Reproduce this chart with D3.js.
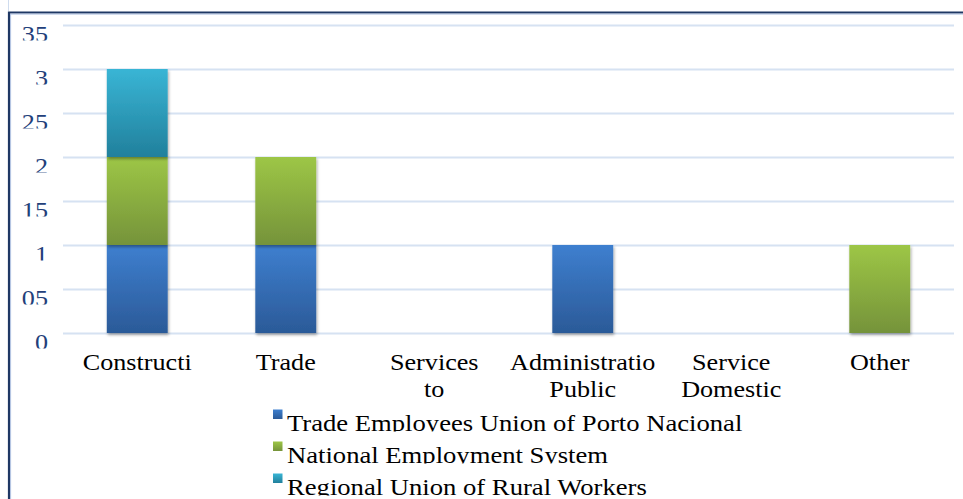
<!DOCTYPE html>
<html>
<head>
<meta charset="utf-8">
<script src="https://cdn.jsdelivr.net/npm/d3@7"></script>
<style>
  html, body { margin: 0; padding: 0; background: #fff; }
  svg { display: block; }
  text { font-family: "Liberation Serif", "Times New Roman", serif; }
</style>
</head>
<body>
<svg id="chart" width="963" height="499"></svg>
<script>
// Sector categories and the label lines shown under each bar
const categories = ["Construction", "Trade", "Services to", "Public Administration", "Domestic Service", "Other"];
const categoryLabels = [["Constructi"], ["Trade"], ["Services", "to"], ["Administratio", "Public"], ["Service", "Domestic"], ["Other"]];

// Referrals per institution
const seriesNames = ["Trade Employees Union of Porto Nacional", "National Employment System", "Regional Union of Rural Workers"];
const tradeUnion = [1, 1, 0, 1, 0, 0];
const nationalSystem = [1, 1, 0, 0, 0, 1];
const ruralUnion = [1, 0, 0, 0, 0, 0];

// Value axis
const tickValues = [0, 0.5, 1, 1.5, 2, 2.5, 3, 3.5];
const tickLabels = ["0", "05", "1", "15", "2", "25", "3", "35"];

const svg = d3.select("#chart");
const defs = svg.append("defs");

const W = 963, H = 499;
const plot = { left: 63, right: 954, top: 25, bottom: 333 };
const stretch = 1.09;

const x = d3.scaleBand().domain(categories).range([plot.left, plot.right]).paddingInner(0.59).paddingOuter(0.295);
const y = d3.scaleLinear().domain([0, 3.5]).range([plot.bottom, plot.top]);

// Gradients for each series
const gradStops = [
  ["#3e7fcf", "#2b5a98"],
  ["#9dc646", "#75933a"],
  ["#39b5d5", "#21809c"]
];
gradStops.forEach((s, i) => {
  const g = defs.append("linearGradient").attr("id", "grad" + i)
    .attr("x1", 0).attr("y1", 0).attr("x2", 0).attr("y2", 1);
  g.append("stop").attr("offset", "0%").attr("stop-color", s[0]);
  g.append("stop").attr("offset", "100%").attr("stop-color", s[1]);
});
const f = defs.append("filter").attr("id", "shadow")
  .attr("x", "-20%").attr("y", "-10%").attr("width", "140%").attr("height", "125%");
f.append("feDropShadow").attr("dx", 1).attr("dy", 2).attr("stdDeviation", 1.5)
  .attr("flood-color", "#000").attr("flood-opacity", 0.35);

// Frame
svg.append("line").attr("x1", 8.5).attr("x2", 8.5).attr("y1", 0).attr("y2", 11)
  .attr("stroke", "#cfdcee").attr("stroke-width", 1);
svg.append("path")
  .attr("d", `M9,${H} L9,12.5 L${W},12.5`)
  .attr("fill", "none").attr("stroke", "#1f3864").attr("stroke-width", 2.2);
svg.append("path")
  .attr("d", `M10.6,${H} L10.6,14.1 L${W},14.1`)
  .attr("fill", "none").attr("stroke", "#9fb5dc").attr("stroke-width", 0.8);

// Gridlines
const yAxis = d3.axisLeft(y).tickValues(tickValues).tickSize(-(plot.right - plot.left)).tickFormat("");
const ga = svg.append("g").attr("transform", `translate(${plot.left},0)`).call(yAxis);
ga.select(".domain").remove();
ga.selectAll(".tick line").attr("stroke", "#d6e2f2").attr("stroke-width", 2);

// Tick labels, clipped at the bottom
tickValues.forEach((v, i) => {
  const cid = "yclip" + i;
  defs.append("clipPath").attr("id", cid).append("rect")
    .attr("x", 0).attr("y", y(v) - 2).attr("width", 60).attr("height", 17.5);
  svg.append("g").attr("clip-path", `url(#${cid})`)
    .append("text")
    .attr("transform", `translate(48,${y(v) + 17}) scale(${stretch},1)`)
    .attr("text-anchor", "end")
    .attr("font-size", 24)
    .attr("fill", "#23407a")
    .text(tickLabels[i]);
});

// Stacked bars
const rows = categories.map((c, i) => ({ cat: c, s0: tradeUnion[i], s1: nationalSystem[i], s2: ruralUnion[i] }));
const stack = d3.stack().keys(["s0", "s1", "s2"])(rows);
stack.forEach((layer, li) => {
  svg.append("g").selectAll("rect")
    .data(layer.filter(d => d[1] - d[0] > 0))
    .join("rect")
    .attr("x", d => x(d.data.cat))
    .attr("width", x.bandwidth())
    .attr("y", d => y(d[1]))
    .attr("height", d => y(d[0]) - y(d[1]))
    .attr("fill", `url(#grad${li})`)
    .attr("filter", "url(#shadow)");
});

// Category labels: each line clipped at its baseline
const lineBase = [370, 397];
lineBase.forEach((b, li) => {
  defs.append("clipPath").attr("id", "xclip" + li).append("rect")
    .attr("x", 0).attr("y", b - 22).attr("width", W).attr("height", 22.5);
});
categories.forEach((c, i) => {
  categoryLabels[i].forEach((txt, li) => {
    svg.append("g").attr("clip-path", `url(#xclip${li})`)
      .append("text")
      .attr("transform", `translate(${x(c) + x.bandwidth() / 2},${lineBase[li]}) scale(${stretch},1)`)
      .attr("text-anchor", "middle")
      .attr("font-size", 24)
      .attr("fill", "#000")
      .text(txt);
  });
});

// Legend
const legendBase = [431, 463, 495];
seriesNames.forEach((name, i) => {
  const b = legendBase[i];
  svg.append("rect")
    .attr("x", 273).attr("y", b - 21.5).attr("width", 9.5).attr("height", 9.5)
    .attr("fill", `url(#grad${i})`);
  defs.append("clipPath").attr("id", "lclip" + i).append("rect")
    .attr("x", 0).attr("y", b - 24).attr("width", W).attr("height", 24.5);
  svg.append("g").attr("clip-path", `url(#lclip${i})`)
    .append("text")
    .attr("transform", `translate(287,${b}) scale(1.11,1)`)
    .attr("font-size", 24)
    .attr("fill", "#000")
    .text(name);
});
</script>
</body>
</html>
